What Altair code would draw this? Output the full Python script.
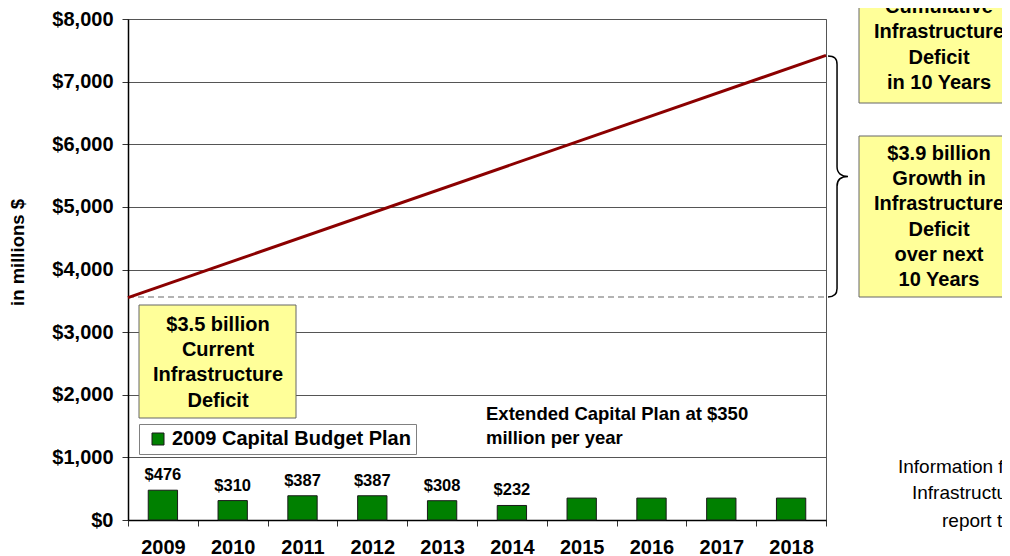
import altair as alt
import pandas as pd

# ---------------- data ----------------
years = [2009, 2010, 2011, 2012, 2013, 2014, 2015, 2016, 2017, 2018]
capital_plan = [476, 310, 387, 387, 308, 232, 350, 350, 350, 350]
series_name = "2009 Capital Budget Plan"
last_labelled_year = 2014

deficit_pos = [2009, 2019]          # start of 2009 .. end of 2018
deficit_values = [3550, 7420]        # cumulative infrastructure deficit
current_deficit = [3560, 3560]       # current deficit reference (dashed)

y_ticks = [0, 1000, 2000, 3000, 4000, 5000, 6000, 7000, 8000]

box_current = ["$3.5 billion", "Current", "Infrastructure", "Deficit"]
box_cumulative = ["$7.4 billion", "Cumulative", "Infrastructure", "Deficit", "in 10 Years"]
box_growth = ["$3.9 billion", "Growth in", "Infrastructure", "Deficit", "over next", "10 Years"]
extended_note = ["Extended Capital Plan at $350", "million per year"]
info_lines = ["Information from the", "Infrastructure Deficit", "report to Council"]

FONT = "Liberation Sans"

bars_df = pd.DataFrame({"year": years, "value": capital_plan,
                        "series": [series_name] * len(years)})
line_df = pd.DataFrame({"pos": deficit_pos, "value": deficit_values})
dash_df = pd.DataFrame({"pos": deficit_pos, "value": current_deficit})
one = pd.DataFrame({"k": [0]})

# ---------------- scales / axes ----------------
y_scale = alt.Scale(domain=[0, 8000], nice=False)
y_axis = alt.Axis(values=y_ticks, format="$,.0f", labelFont=FONT, labelFontSize=20,
                  labelFontWeight="bold", labelColor="black", labelPadding=9,
                  tickSize=6, tickColor="#333333", domainColor="black", domainWidth=1.5,
                  grid=True, gridColor="#555555", gridWidth=1,
                  title="in millions $", titleFont=FONT, titleFontSize=18.5,
                  titleFontWeight="bold", titleColor="black", titleX=-111, titleY=233,
                  titleBaseline="middle", titleAngle=270)
x_axis = alt.Axis(title=None, labelAngle=0, labelFont=FONT, labelFontSize=20,
                  labelFontWeight="bold", labelColor="black", labelPadding=11,
                  tickSize=6, tickBand="extent", tickColor="#333333",
                  domainColor="black", domainWidth=1.5, grid=False)
x_scale = alt.Scale(paddingInner=0, paddingOuter=0)
pos_scale = alt.Scale(domain=[2009, 2019], nice=False, zero=False)

legend = alt.Legend(title=None, orient="none", legendX=11, legendY=405, padding=5,
                    fillColor="white", strokeColor="#808080", symbolType="square",
                    symbolSize=144, symbolStrokeColor="#1a1a1a", symbolStrokeWidth=1,
                    symbolOffset=4, labelOffset=4, labelFont=FONT, labelFontSize=20,
                    labelFontWeight="bold", labelColor="black", labelLimit=0)

bars = alt.Chart(bars_df).mark_bar(
    width=alt.RelativeBandSize(0.42), stroke="#1a1a1a", strokeWidth=1
).encode(
    x=alt.X("year:O", scale=x_scale, axis=x_axis),
    y=alt.Y("value:Q", scale=y_scale, axis=y_axis),
    color=alt.Color("series:N", scale=alt.Scale(domain=[series_name], range=["#008000"]),
                    legend=legend),
)
bar_labels = alt.Chart(bars_df).transform_filter(
    alt.datum.year <= last_labelled_year
).mark_text(font=FONT, fontSize=16.5, fontWeight="bold", baseline="middle",
            dy=-15, color="black").encode(
    x=alt.X("year:O"),
    y=alt.Y("value:Q"),
    text=alt.Text("value:Q", format="$,.0f"),
)
bar_layer = alt.layer(bars, bar_labels)

deficit_line = alt.Chart(line_df).mark_line(color="#8B0000", strokeWidth=3).encode(
    x=alt.X("pos:Q", scale=pos_scale, axis=None),
    y=alt.Y("value:Q"),
)
dash_line = alt.Chart(dash_df).mark_line(color="#9a9a9a", strokeWidth=1.5,
                                         strokeDash=[6, 4]).encode(
    x=alt.X("pos:Q", scale=pos_scale, axis=None),
    y=alt.Y("value:Q"),
)


def box(x, x2, y, y2):
    return alt.Chart(one).mark_rect(fill="#FFFF99", stroke="#666666", strokeWidth=1).encode(
        x=alt.value(x), x2=alt.value(x2), y=alt.value(y), y2=alt.value(y2))


def note(lines, x, y, align="center", size=20, weight="bold", lh=25.2):
    # y is the position of the first line
    return alt.Chart(one).mark_text(text=lines, align=align, baseline="middle",
                                    lineHeight=lh, font=FONT, fontSize=size,
                                    fontWeight=weight, color="black").encode(
        x=alt.value(x), y=alt.value(y))


brace_path = ("M -0.083 -1 C -0.03 -1 -0.008 -0.98 -0.008 -0.93 L -0.008 -0.08 "
              "C -0.008 -0.025 0.03 0 0.083 0 "
              "M 0.083 0 C 0.03 0 -0.008 0.025 -0.008 0.08 L -0.008 0.93 "
              "C -0.008 0.98 -0.03 1 -0.083 1")
brace = alt.Chart(one).mark_point(shape=brace_path, size=58081, filled=False,
                                  stroke="black", strokeWidth=1.5, opacity=1).encode(
    x=alt.value(710), y=alt.value(157.5))

layers = [
    box(11, 168, 286, 399),
    box(731, 905, -60, 84),
    box(731, 905, 117, 278),
    dash_line,
    deficit_line,
    bar_layer,
    note(box_current, 90, 306),
    note(box_cumulative, 811, -37),
    note(box_growth, 811, 135),
    note(extended_note, 358, 395, align="left", size=18.5, lh=24),
    note([info_lines[0]], 770, 448, align="left", size=19, weight="normal"),
    note([info_lines[1]], 784, 474, align="left", size=19, weight="normal"),
    note([info_lines[2]], 814, 502, align="left", size=19, weight="normal"),
    brace,
]

chart = alt.layer(*layers).resolve_scale(x="independent").properties(
    width=698, height=501,
    padding={"left": 120, "top": 11, "right": 176, "bottom": 36},
    autosize=alt.AutoSizeParams(type="none"),
).configure(font=FONT, background="white").configure_view(stroke="#555555", strokeWidth=1)

chart.save("out.html", embed_options={"renderer": "svg", "actions": False})
